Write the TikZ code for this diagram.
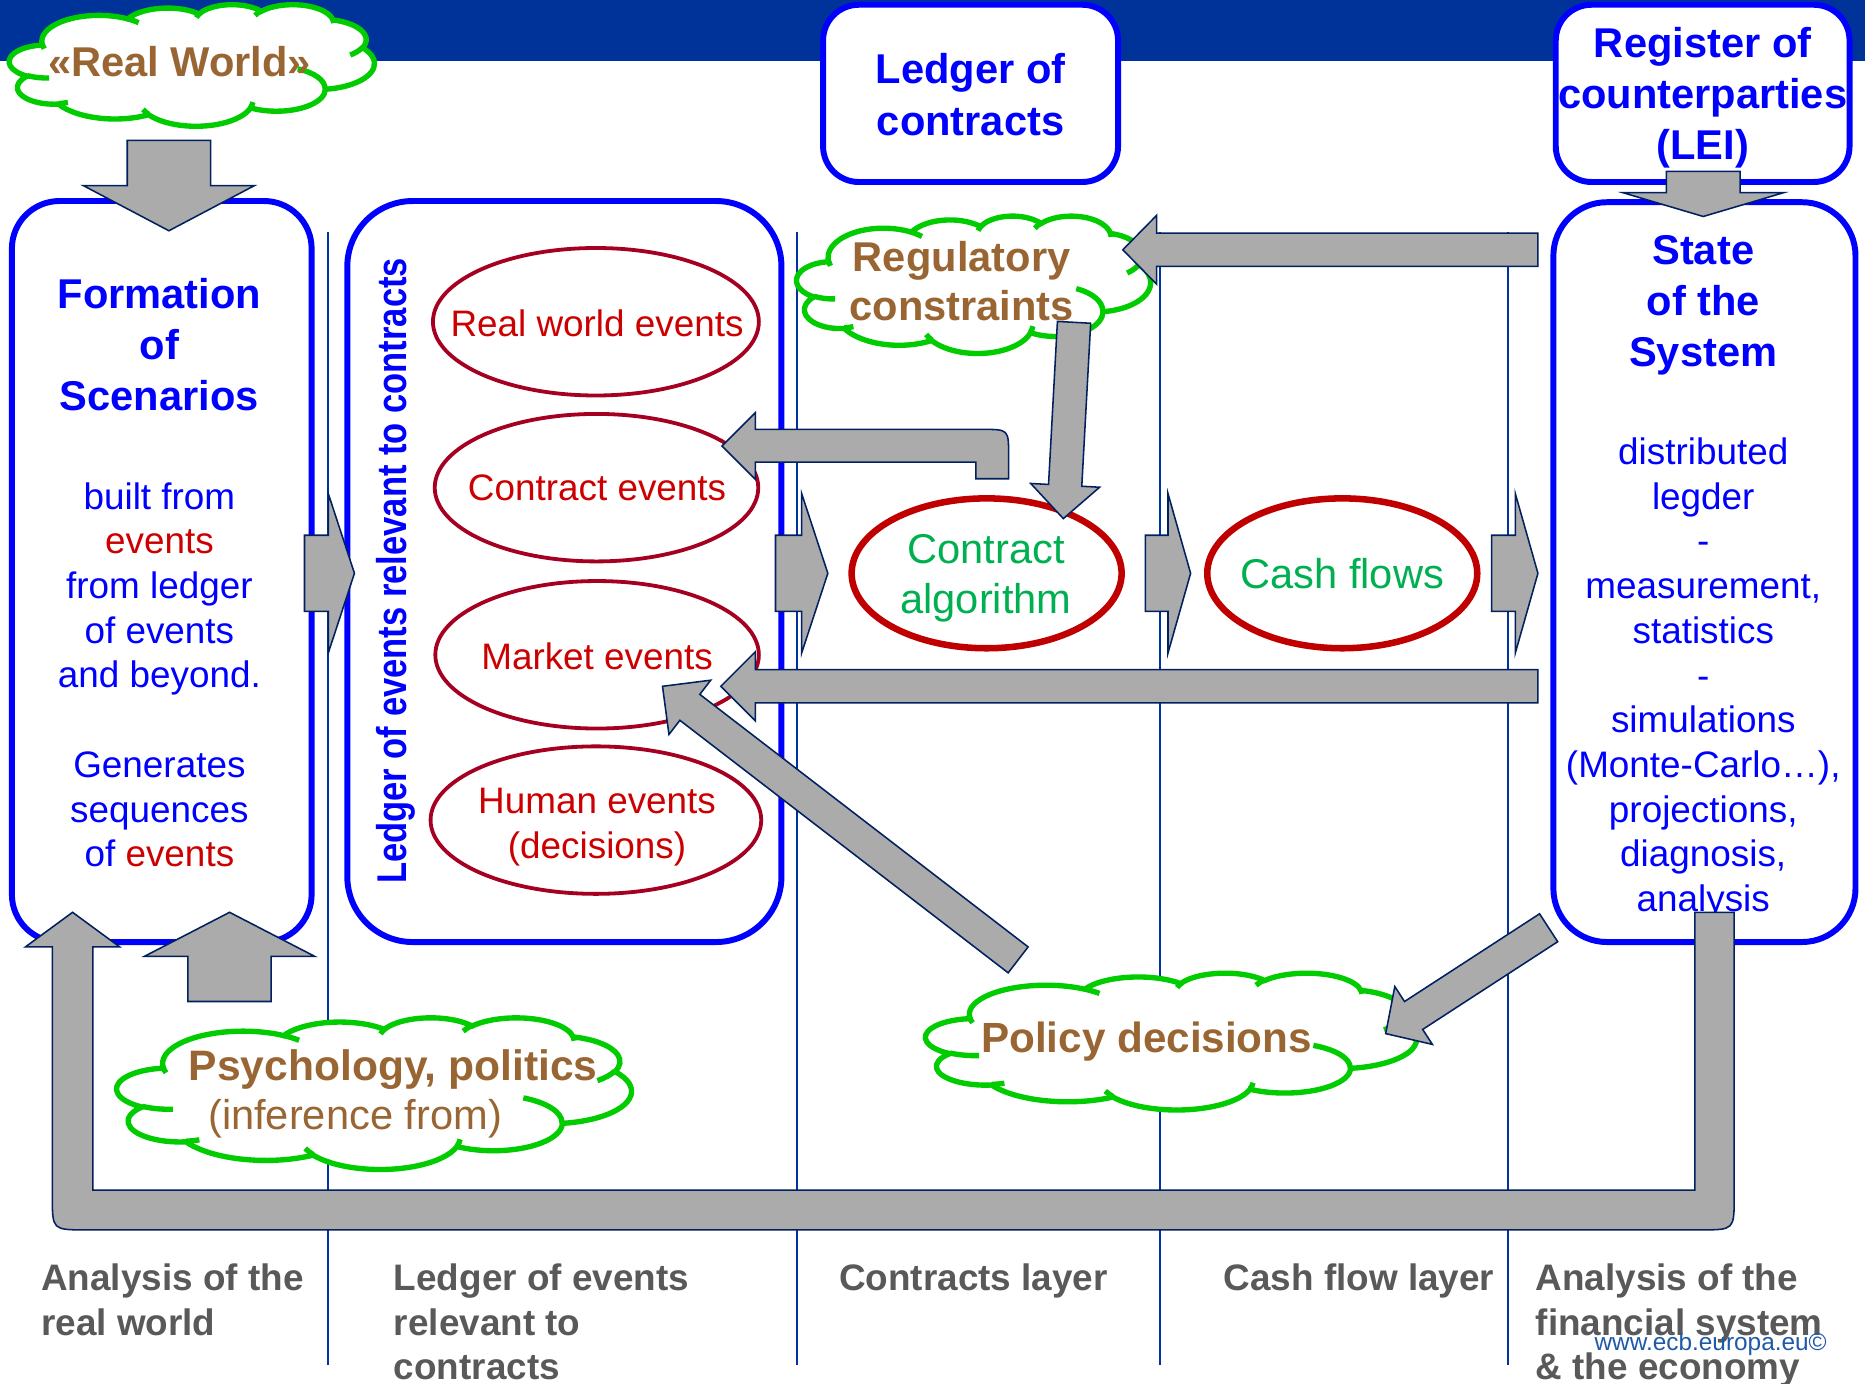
\documentclass[tikz,border=0pt]{standalone}
\usepackage{fontspec}
\setmainfont{Liberation Sans}
\newfontfamily\condensedsans[FakeStretch=0.83]{Liberation Sans}
\usetikzlibrary{calc,shapes.geometric}

\definecolor{barblue}{HTML}{003399}
\definecolor{panelblue}{HTML}{0000FF}
\definecolor{cloudbrown}{HTML}{996633}
\definecolor{evred}{HTML}{CC0000}
\definecolor{evedge}{HTML}{A50021}
\definecolor{flowedge}{HTML}{C00000}
\definecolor{flowgreen}{HTML}{00B050}
\definecolor{cloudgreen}{HTML}{00CC00}
\definecolor{labelgrey}{HTML}{595959}
\definecolor{arrowgrey}{HTML}{ABABAB}
\definecolor{arrowedge}{HTML}{002060}
\definecolor{columnblue}{HTML}{0033A0}
\definecolor{linkblue}{HTML}{1F5AA8}

\tikzset{
  panel/.style={rectangle, draw=panelblue, line width=5pt, fill=white, inner sep=0pt},
  evshape/.style={ellipse, draw=evedge, line width=3.2pt, fill=white, inner sep=0pt,
    minimum width=274pt, minimum height=124pt},
  flowshape/.style={ellipse, draw=flowedge, line width=5.5pt, fill=white, inner sep=0pt,
    minimum width=227pt, minimum height=126pt},
  cloudline/.style={draw=cloudgreen, line width=4.5pt},
  % multi-line nodes: the base anchor sits on the last line
  headbold/.style={font=\fontsize{35}{43}\selectfont\bfseries, text=panelblue,
    align=center, inner sep=0pt, anchor=base},
  bodyreg/.style={font=\fontsize{31}{37.6}\selectfont, text=panelblue,
    align=center, inner sep=0pt, anchor=base},
  evtext/.style={font=\fontsize{31}{38}\selectfont, text=evred,
    align=center, inner sep=0pt, anchor=base},
  flowtext/.style={font=\fontsize{35}{42}\selectfont, text=flowgreen,
    align=center, inner sep=0pt, anchor=base},
  cloudbold/.style={font=\fontsize{35}{41}\selectfont\bfseries, text=cloudbrown,
    align=center, inner sep=0pt, anchor=base},
  cloudreg/.style={font=\fontsize{35}{41}\selectfont, text=cloudbrown,
    align=center, inner sep=0pt, anchor=base},
  layerlabel/.style={font=\fontsize{31}{37.6}\selectfont\bfseries, text=labelgrey,
    align=left, inner sep=0pt, anchor=base west},
  colrule/.style={draw=columnblue, line width=1.5pt},
  blockarrow/.style={fill=arrowgrey, draw=arrowedge, line width=1.3pt, line join=miter},
}

% straight block arrow: tail, tip, shaft half width, head half width, head length
\newcommand\blockarrow[5]{%
  \coordinate (headbase) at ($(#2)!#5!(#1)$);
  \filldraw[blockarrow]
    ($(#1)!#3!90:(#2)$) -- ($(headbase)!#3!90:(#2)$) -- ($(headbase)!#4!90:(#2)$)
    -- (#2)
    -- ($(headbase)!#4!-90:(#2)$) -- ($(headbase)!#3!-90:(#2)$) -- ($(#1)!#3!-90:(#2)$)
    -- cycle;
}

% elliptic arc given by radii, start angle and sweep measured as seen on the ellipse
\newcommand\setvizarc[4]{%
  \pgfmathsetmacro\arcts{atan2(#1*sin(#3),#2*cos(#3))}%
  \pgfmathsetmacro\arcte{atan2(#1*sin(#3+#4),#2*cos(#3+#4))}%
  \pgfmathsetmacro\arcd{mod(\arcte-\arcts+720,360)}%
  \global\let\arcts\arcts \global\let\arcd\arcd
}
\newcommand\varc[4]{\pgfextra{\setvizarc{#1}{#2}{#3}{#4}} arc[start angle=\arcts, delta angle=\arcd, x radius=#1, y radius=#2]}

% cloud callout in a box: left, top, width, height, name of its centre
\newcommand\puffcloud[5]{%
  \begin{scope}[shift={(#1,#2)}, xscale=#3/1000, yscale=#4/1000]
    \filldraw[cloudline, fill=white] (90.28,332.64)
      \varc{156.32}{212.73}{-190.487}{123.781}
      \varc{123.45}{168.22}{-144.102}{89.945}
      \varc{101.04}{137.62}{-145.808}{99.723}
      \varc{112.43}{152.66}{-130.986}{117.242}
      \varc{123.45}{168.36}{-78.709}{109.027}
      \varc{156.83}{213.43}{-46.267}{130.269}
      \varc{133.91}{182.11}{0.625}{114.033}
      \varc{156.30}{213.31}{22.452}{115.173}
      \varc{178.70}{244.05}{66.243}{75.711}
      \varc{100.93}{136.99}{-274.942}{146.736}
      \varc{100.58}{137.62}{-246.829}{152.519} -- cycle;
    \draw[cloudline]
      (108.63,605.95) \varc{100.58}{137.62}{86.742}{26.430}
      (160.37,807.85) \varc{100.93}{136.99}{73.610}{11.447}
      (381.44,904.86) \varc{156.30}{213.31}{137.624}{14.081}
      (667.29,804.42) \varc{156.30}{213.31}{6.453}{15.998}
      (790.02,531.34) \varc{133.91}{182.11}{-70.292}{70.917}
      (967.55,355.42) \varc{123.45}{168.36}{30.318}{27.752}
      (887.13,125.60) \varc{112.43}{152.66}{-13.744}{14.859}
      (673.10,91.48)  \varc{112.43}{152.66}{-149.181}{18.195}
      (512.52,109.26) \varc{101.04}{137.62}{-163.494}{17.686}
      (324.07,120.19) \varc{156.32}{212.73}{-66.707}{12.319}
      (95.53,365.49)  \varc{156.32}{212.73}{157.654}{11.858};
    \coordinate (#5) at (500,500);
  \end{scope}
}

\begin{document}
\begin{tikzpicture}[x=1pt,y=-1pt]
\useasboundingbox (0,0) rectangle (1568,1163);
\fill[white] (0,0) rectangle (1568,1163);
\fill[barblue] (0,0) rectangle (1568,51);

% column separators
\foreach \cx in {276,670,975,1268} \draw[colrule] (\cx,195) -- (\cx,1148);

% panels
\node[panel, rounded corners=40pt, minimum width=252pt, minimum height=623pt] (scen) at (136,480.5) {};
\node[panel, rounded corners=55pt, minimum width=365pt, minimum height=623pt] (evledger) at (474.5,480.5) {};
\node[panel, rounded corners=45pt, minimum width=254pt, minimum height=622pt] (state) at (1433,481) {};
\node[panel, rounded corners=30pt, minimum width=248pt, minimum height=149pt] (contracts) at (816,78.5) {};
\node[panel, rounded corners=30pt, minimum width=247pt, minimum height=149pt] (lei) at (1431.5,78.5) {};

\node[headbold] (scentitle) at (134,345.5) {Formation\\of\\Scenarios};
\node[bodyreg] (scenbody) at (134,728.8) {built from\\\textcolor{evred}{events}\\from ledger\\of events\\and beyond.\\[37.6pt]Generates\\sequences\\of \textcolor{evred}{events}};
\node[headbold] (contractstitle) at (816,113.5) {Ledger of\\contracts};
\node[headbold] (leititle) at (1431.5,134.5) {Register of\\counterparties\\(LEI)};
\node[headbold] (statetitle) at (1432,308.5) {State\\of the\\System};
\node[bodyreg] (statebody) at (1432,766.5) {distributed\\legder\\-\\measurement,\\statistics\\-\\simulations\\(Monte-Carlo…),\\projections,\\diagnosis,\\analysis};
\node[rotate=90, font=\condensedsans\fontsize{35}{42}\selectfont\bfseries, text=panelblue, inner sep=0pt] (evledgerlabel) at (333,480) {Ledger of events relevant to contracts};

% event ellipses
\node[evshape] (rwev) at (501,270.5) {};
\node[evtext] (rwevtext) at (502,282.5) {Real world events};
\node[evshape, minimum width=272pt] (ctev) at (501.5,410) {};
\node[evtext] (ctevtext) at (502,421) {Contract events};
\node[evshape, minimum width=272pt] (mkev) at (502,550.5) {};
\node[evtext] (mkevtext) at (502,562.5) {Market events};
\node[evshape, minimum width=278pt] (huev) at (501,689.5) {};
\node[evtext] (huevtext) at (502,722) {Human events\\(decisions)};

% contract and cash flow layers
\node[flowshape] (algo) at (829.5,482) {};
\node[flowtext] (algotext) at (829,515.5) {Contract\\algorithm};
\node[flowshape] (cash) at (1128.5,482) {};
\node[flowtext] (cashtext) at (1128.5,494.5) {Cash flows};

% clouds
\puffcloud{7.9}{3.6}{306.8}{102.2}{worldcloud}
\node[cloudbold] (worldtext) at (151,64.5) {«Real World»};
\puffcloud{669.8}{181.3}{297.5}{115.5}{regcloud}
\node[cloudbold] (regtext) at (808.5,269.5) {Regulatory\\constraints};
\puffcloud{98.3}{855.3}{432.5}{127.5}{psycloud}
\node[cloudbold, font=\fontsize{35.8}{41}\selectfont\bfseries] (psytext) at (330.5,908) {Psychology, politics};
\node[cloudreg] (psysub) at (298.5,950) {(inference from)};
\puffcloud{778.3}{817.8}{412.5}{115}{polcloud}
\node[cloudbold, font=\fontsize{35.5}{41}\selectfont\bfseries] (poltext) at (964,885) {Policy decisions};

% layer captions
\node[layerlabel] (cap1) at (34.5,1122.6) {Analysis of the\\real world};
\node[layerlabel] (cap2) at (331,1160.2) {Ledger of events\\relevant to\\contracts};
\node[layerlabel, anchor=base] (cap3) at (818.5,1085) {Contracts layer};
\node[layerlabel, anchor=base] (cap4) at (1142.5,1085) {Cash flow layer};
\node[layerlabel] (cap5) at (1291,1160.2) {Analysis of the\\financial system\\\& the economy};
\node[font=\fontsize{20.5}{24}\selectfont, text=linkblue, anchor=base east, inner sep=0pt] (ecb) at (1536,1135) {www.ecb.europa.eu©};

% block arrows
\coordinate (worldtail) at (142,118);  \coordinate (worldtip) at (142,194);
\blockarrow{worldtail}{worldtip}{35pt}{72pt}{38pt}
\coordinate (leitail) at (1432,144);   \coordinate (leitip) at (1432,182);
\blockarrow{leitail}{leitip}{31pt}{67.5pt}{20pt}
\coordinate (psytail) at (193,842);    \coordinate (psytip) at (193,767);
\blockarrow{psytail}{psytip}{35pt}{71.5pt}{37pt}

\coordinate (r1tail) at (256,482);  \coordinate (r1tip) at (298,482);
\blockarrow{r1tail}{r1tip}{32pt}{67pt}{22pt}
\coordinate (r2tail) at (652,482);  \coordinate (r2tip) at (696,482);
\blockarrow{r2tail}{r2tip}{32pt}{67pt}{22pt}
\coordinate (r3tail) at (963,482);  \coordinate (r3tip) at (1001,482);
\blockarrow{r3tail}{r3tip}{32pt}{67pt}{19pt}
\coordinate (r4tail) at (1254,482); \coordinate (r4tip) at (1293,482);
\blockarrow{r4tail}{r4tip}{32pt}{67pt}{19pt}

\coordinate (regtail) at (1293,210);  \coordinate (regtip) at (944,210);
\blockarrow{regtail}{regtip}{14pt}{29pt}{28.5pt}
\coordinate (mkttail) at (1293,577);  \coordinate (mkttip) at (606,577);
\blockarrow{mkttail}{mkttip}{14pt}{29pt}{29pt}
\coordinate (algtail) at (903,271);   \coordinate (algtip) at (894,436);
\blockarrow{algtail}{algtip}{14pt}{29pt}{28pt}
\coordinate (poltail) at (856,807);   \coordinate (poltip) at (557,577);
\blockarrow{poltail}{poltip}{13.75pt}{28.8pt}{29pt}
\coordinate (sptail) at (1302,780);   \coordinate (sptip) at (1165,869);
\blockarrow{sptail}{sptip}{14pt}{29pt}{28pt}

% bent arrow from the contract algorithm back to contract events
\filldraw[blockarrow] (848,402.5) -- (848,383) .. controls (848,361) .. (826,361)
  -- (635,361) -- (635,347) -- (607,375) -- (635,403) -- (635,388.5)
  -- (820.5,388.5) -- (820.5,402.5) -- cycle;

% feedback loop from the state of the system to the formation of scenarios
\filldraw[blockarrow] (1425,767) -- (1458,767) -- (1458,1006) .. controls (1458,1034) .. (1430,1034)
  -- (72,1034) .. controls (44,1034) .. (44,1006) -- (44,796) -- (21.5,796) -- (61,767)
  -- (100.5,796) -- (78,796) -- (78,1000.5) -- (1425,1000.5) -- cycle;
\end{tikzpicture}
\end{document}
